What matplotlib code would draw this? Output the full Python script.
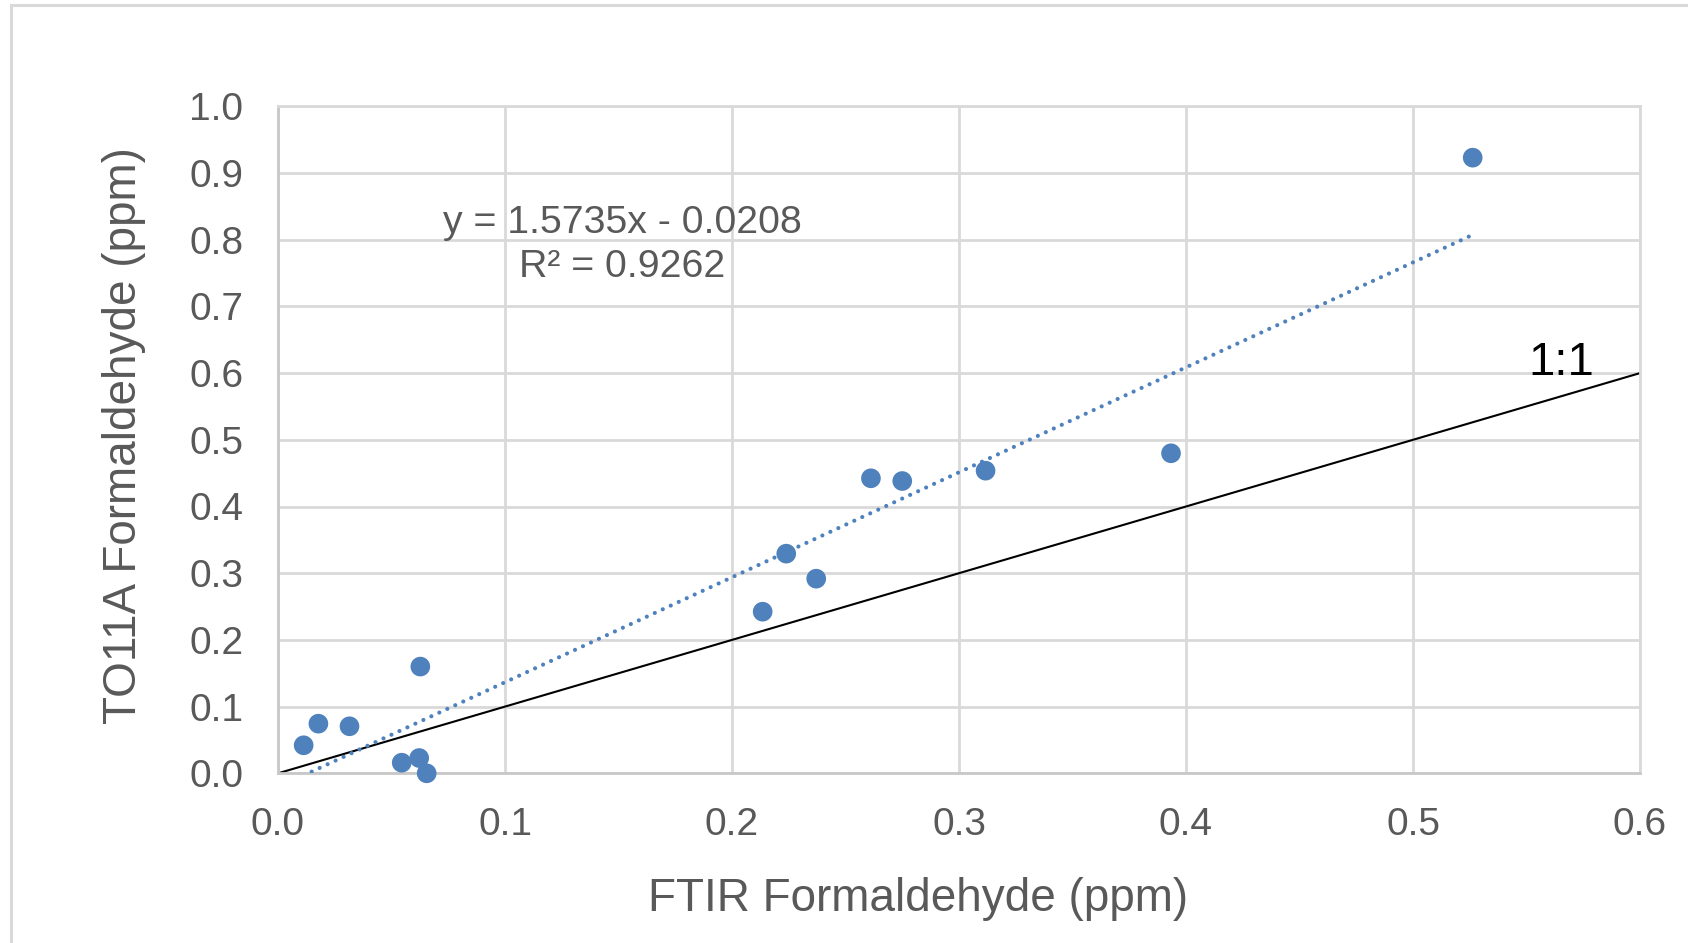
import matplotlib
matplotlib.use("Agg")
import matplotlib.pyplot as plt
from matplotlib.lines import Line2D
import numpy as np

# ---- data ----
ftir = [0.0113, 0.0178, 0.0315, 0.0545, 0.0622, 0.0655, 0.0627, 0.2135,
        0.2239, 0.2371, 0.2612, 0.2750, 0.3117, 0.3934, 0.5263]
to11a = [0.042, 0.0744, 0.0705, 0.0159, 0.0229, 0.0, 0.160, 0.2423,
         0.3293, 0.2918, 0.4423, 0.4382, 0.4537, 0.4798, 0.923]
trend_slope = 1.5735
trend_intercept = -0.0208
r_squared = 0.9262
one_to_one = [0.0, 0.6]
xticks = [0.0, 0.1, 0.2, 0.3, 0.4, 0.5, 0.6]
yticks = [0.0, 0.1, 0.2, 0.3, 0.4, 0.5, 0.6, 0.7, 0.8, 0.9, 1.0]
xlabel = "FTIR Formaldehyde (ppm)"
ylabel = "TO11A Formaldehyde (ppm)"

plt.rcParams['font.family'] = ['Liberation Sans', 'DejaVu Sans']

W, H = 1688, 943
fig = plt.figure(figsize=(W / 100, H / 100), dpi=100)
fig.patch.set_facecolor('white')

# chart-area border (top and left visible)
fig.add_artist(Line2D([11 / W, 11 / W], [0, 1 - 5 / H], transform=fig.transFigure,
                      color='#d9d9d9', lw=2.2))
fig.add_artist(Line2D([11 / W, 1], [1 - 5 / H, 1 - 5 / H], transform=fig.transFigure,
                      color='#d9d9d9', lw=2.2))

x0, x1 = 278, 1640
y0, y1 = 773.3, 106.3
ax = fig.add_axes([x0 / W, 1 - y0 / H, (x1 - x0) / W, (y0 - y1) / H])
ax.set_xlim(xticks[0], xticks[-1])
ax.set_ylim(yticks[0], yticks[-1])
ax.set_xticks(xticks)
ax.set_yticks(yticks)
ax.set_xticklabels([f"{v:.1f}" for v in xticks])
ax.set_yticklabels([f"{v:.1f}" for v in yticks])
ax.tick_params(length=0, labelsize=28, colors='#595959')
ax.tick_params(axis='x', pad=24)
ax.tick_params(axis='y', pad=25)
ax.grid(True, color='#d9d9d9', lw=2)
ax.set_axisbelow(True)
for side in ['top', 'right']:
    ax.spines[side].set_color('#d9d9d9')
    ax.spines[side].set_linewidth(2)
for side in ['left', 'bottom']:
    ax.spines[side].set_color('#c8c8c8')
    ax.spines[side].set_linewidth(2)

# 1:1 line
ax.plot(one_to_one, one_to_one, color='black', lw=1.5, zorder=2)

# data points
ax.scatter(ftir, to11a, s=200, color='#4F81BD', edgecolors='none', zorder=3,
           clip_on=False)

# linear trendline (dotted), from the displayed equation, over the data range
tx = np.array([min(ftir), max(ftir)])
ty = trend_slope * tx + trend_intercept
ax.plot(tx, ty, color='#4F81BD', lw=3.0, linestyle=(0, (0.01, 2.1)),
        dash_capstyle='round', zorder=4)

# equation labels
ax.text(0.1518, 0.8096, f"y = {trend_slope}x - {abs(trend_intercept):.4f}",
        ha='center', va='baseline', fontsize=28.3, color='#595959', zorder=5)
ax.text(0.1518, 0.7445, f"R² = {r_squared}", ha='center', va='baseline',
        fontsize=28.3, color='#595959', zorder=5)

ax.text(0.5654, 0.597, "1:1", ha='center', va='baseline', fontsize=34,
        color='black', zorder=5)

ax.set_xlabel(xlabel, fontsize=33, color='#595959')
ax.set_ylabel(ylabel, fontsize=33, color='#595959')
ax.xaxis.set_label_coords(0.47, -0.156)
ax.yaxis.set_label_coords(-0.0969, 0.5064)

fig.savefig("out.png", dpi=100)
